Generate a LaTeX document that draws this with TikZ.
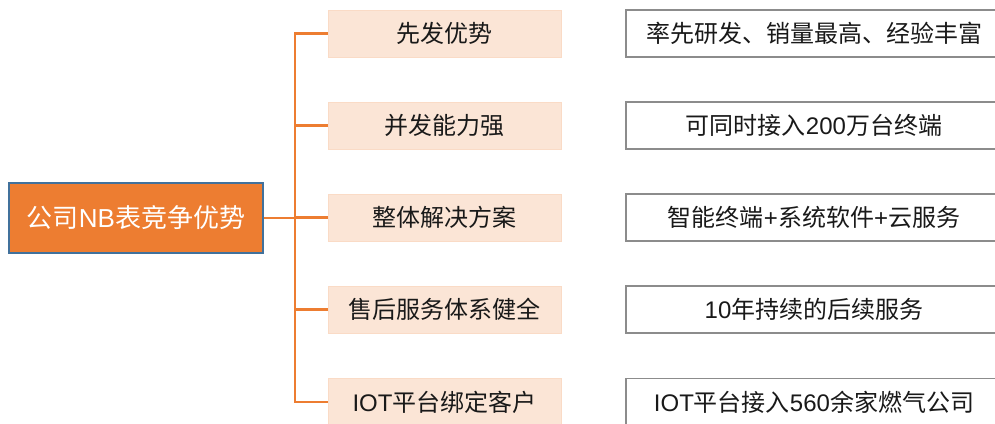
\documentclass[tikz,border=0pt]{standalone}
\usepackage{fontspec}
\setmainfont{Noto Sans CJK SC}
\newfontfamily\latf{Liberation Sans}
\definecolor{orng}{HTML}{ED7D31}
\definecolor{peach}{HTML}{FBE5D6}
\definecolor{peachline}{HTML}{FADBC6}
\definecolor{rootline}{HTML}{41719C}
\definecolor{grayline}{HTML}{8C8C8C}
\tikzset{
  rootbox/.style={draw=rootline, line width=1.2pt, fill=orng, text=white, minimum width=254pt, minimum height=70pt, inner sep=0pt, font=\fontsize{26}{30}\selectfont},
  midbox/.style={draw=peachline, line width=1pt, fill=peach, text=black!90, minimum width=233pt, minimum height=47pt, inner sep=0pt, font=\fontsize{24}{28}\selectfont},
  rbox/.style={draw=grayline, line width=1.3pt, fill=white, text=black!90, minimum width=376pt, minimum height=47pt, inner sep=0pt, font=\fontsize{24}{28}\selectfont},
  conn/.style={draw=orng, line width=2.4pt}
}
\begin{document}
\begin{tikzpicture}[x=1pt,y=-1pt]
\useasboundingbox (0,0) rectangle (995,423);
\clip (0,0) rectangle (995,423);
\node[rootbox] (root) at (136,218) {公司{\latf NB}表竞争优势};
\coordinate (trunk) at (295,218);
\foreach \i/\y/\m/\r in {1/33.5/先发优势/率先研发、销量最高、经验丰富,
                         2/125.5/并发能力强/可同时接入{\latf 200}万台终端,
                         3/217.5/整体解决方案/智能终端{\latf +}系统软件{\latf +}云服务,
                         4/309.5/售后服务体系健全/{\latf 10}年持续的后续服务,
                         5/402/{\latf IOT}平台绑定客户/{\latf IOT}平台接入{\latf 560}余家燃气公司}{
  \node[midbox] (m\i) at (444.5,\y) {\m};
  \node[rbox] (r\i) at (814,\y) {\r};
}
\draw[conn] (root.east) -- (trunk);
\draw[conn] (m1.west) -| (trunk) |- (m5.west);
\foreach \i in {2,3,4}{
  \draw[conn] (trunk |- m\i.west) -- (m\i.west);
}
\end{tikzpicture}
\end{document}
